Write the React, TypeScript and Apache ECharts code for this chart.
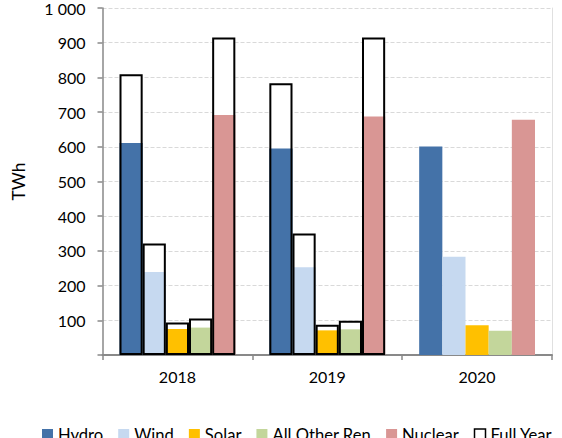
import React, { useEffect, useRef } from "react";
import * as echarts from "echarts";

const categories = ["2018", "2019", "2020"];
const seriesNames = ["Hydro", "Wind", "Solar", "All Other Ren", "Nuclear"];
const colors = ["#4472A8", "#C6D9F0", "#FFC000", "#C3D69B", "#D99694"];

const hydro = [611, 595, 601];
const wind = [239, 253, 283];
const solar = [75, 71, 86];
const otherRen = [79, 74, 70];
const nuclear = [692, 687, 678];

const hydroFull = [809, 783, null];
const windFull = [321, 350, null];
const solarFull = [94, 87, null];
const otherRenFull = [105, 99, null];
const nuclearFull = [915, 915, null];

const FONT = "Lato";

export default function App() {
  const ref = useRef<HTMLDivElement>(null);
  useEffect(() => {
    if (!ref.current) return;
    const chart = echarts.init(ref.current, undefined, { renderer: "svg" });
    const values = [hydro, wind, solar, otherRen, nuclear];
    const fulls = [hydroFull, windFull, solarFull, otherRenFull, nuclearFull];
    const barLayout = { barGap: "0%", barCategoryGap: "22.7%" };
    const series: any[] = [];
    seriesNames.forEach((name, i) => {
      series.push({
        type: "bar",
        name: "Full Year",
        xAxisIndex: 1,
        data: fulls[i],
        itemStyle: { color: "#FFFFFF" },
        z: 1,
        silent: true,
        ...barLayout,
      });
    });
    seriesNames.forEach((name, i) => {
      series.push({
        type: "bar",
        name,
        xAxisIndex: 0,
        data: values[i],
        itemStyle: { color: colors[i] },
        z: 2,
        ...barLayout,
      });
    });
    seriesNames.forEach((name, i) => {
      series.push({
        type: "bar",
        name: "Full Year",
        xAxisIndex: 2,
        data: fulls[i],
        itemStyle: { color: "rgba(0,0,0,0)", borderColor: "#000000", borderWidth: 2 },
        z: 3,
        silent: true,
        ...barLayout,
      });
    });
    const hiddenX = {
      type: "category",
      data: categories,
      show: false,
      gridIndex: 0,
    };
    chart.setOption({
      animation: false,
      textStyle: { fontFamily: FONT },
      grid: { left: 102.5, right: 10, top: 5, bottom: 83, containLabel: false },
      legend: {
        left: 37,
        top: 421,
        width: 800,
        icon: "rect",
        itemWidth: 11,
        itemHeight: 11,
        itemGap: 15,
        textStyle: { fontFamily: FONT, fontSize: 16.6, color: "#000" },
        data: [
          ...seriesNames.map((n) => ({ name: n })),
          {
            name: "Full Year",
            itemStyle: { color: "#FFFFFF", borderColor: "#000000", borderWidth: 1.5 },
          },
        ],
      },
      xAxis: [
        {
          type: "category",
          data: categories,
          axisLine: { lineStyle: { color: "#898989", width: 2 } },
          axisTick: { show: true, length: 5, lineStyle: { color: "#898989", width: 1.5 } },
          axisLabel: { color: "#000", fontSize: 16, fontFamily: FONT, margin: 13 },
        },
        hiddenX,
        hiddenX,
      ],
      yAxis: [
        {
          type: "value",
          min: 0,
          max: 1000,
          interval: 100,
          name: "TWh",
          nameLocation: "middle",
          nameGap: 75,
          nameTextStyle: { color: "#000", fontSize: 17.5, fontFamily: FONT },
          axisLine: { show: true, lineStyle: { color: "#898989", width: 1.5 } },
          axisTick: { show: true, length: 5, lineStyle: { color: "#898989", width: 1.5 } },
          axisLabel: {
            color: "#000",
            fontSize: 16,
            fontFamily: FONT,
            margin: 17,
            formatter: (v: number) =>
              v === 0 ? "" : v >= 1000 ? String(v).replace(/(\d)(?=(\d{3})+$)/g, "$1 ") : String(v),
          },
          splitLine: { show: true, lineStyle: { color: "#D9D9D9", type: [4, 2], width: 1 } },
        },
        {
          type: "value",
          min: 0,
          max: 1000,
          interval: 100,
          position: "right",
          axisLine: { show: true, lineStyle: { color: "#E0E0E0", width: 1 } },
          axisTick: { show: false },
          axisLabel: { show: false },
          splitLine: { show: false },
        },
      ],
      series,
    });
    return () => chart.dispose();
  }, []);
  return (
    <div
      ref={ref}
      style={{ position: "fixed", left: 0, top: 0, width: 562, height: 438, background: "#fff" }}
    />
  );
}
